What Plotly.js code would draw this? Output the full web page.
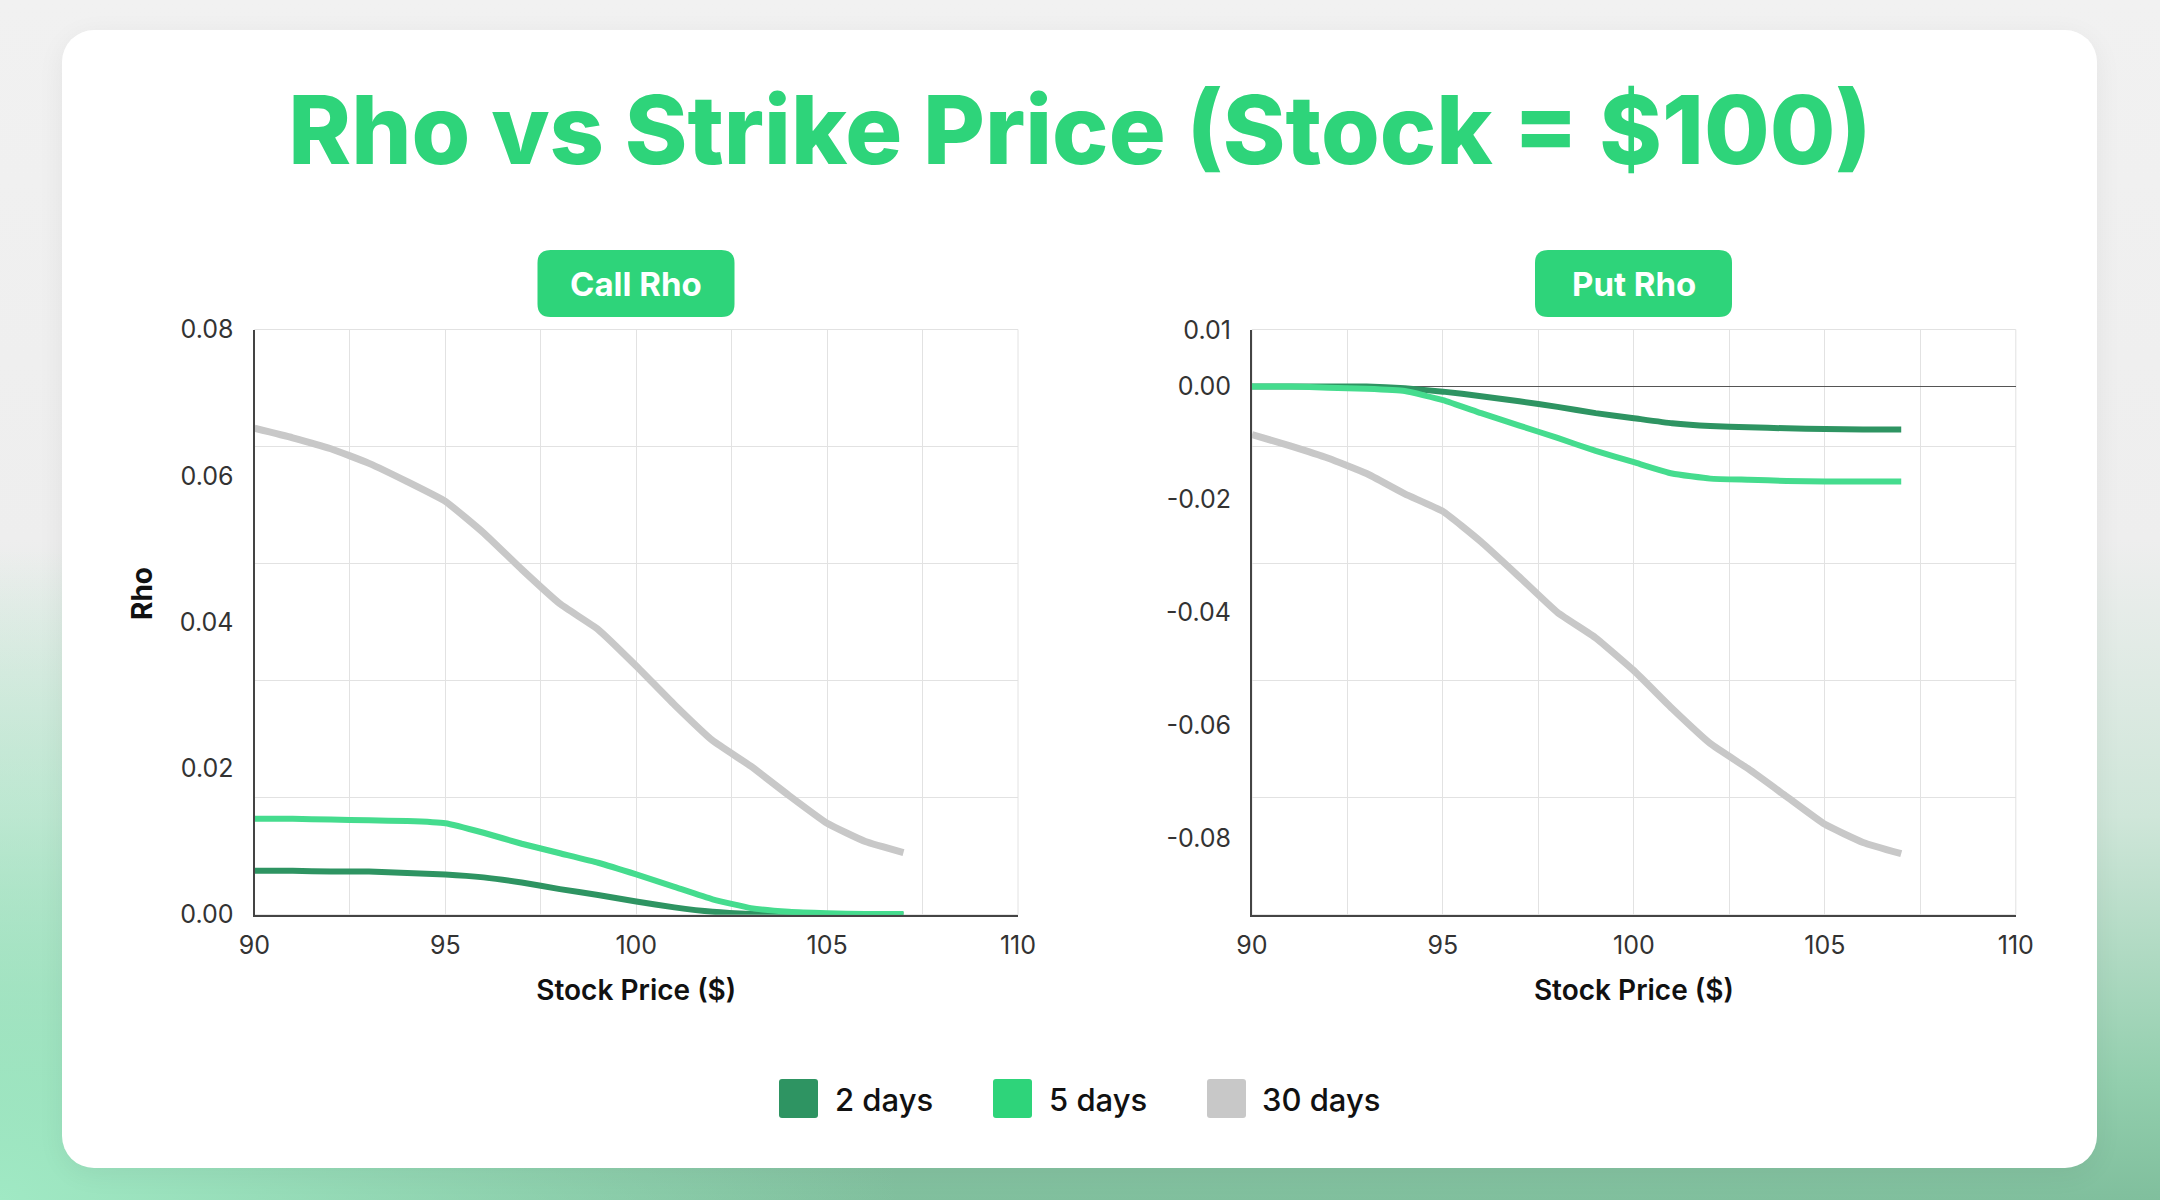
<!DOCTYPE html>
<html>
<head>
<meta charset="utf-8">
<script src="https://cdn.plot.ly/plotly-3.0.1.min.js"></script>
<style>
  html, body { margin: 0; padding: 0; width: 2160px; height: 1200px; overflow: hidden; }
  body {
    background:
      radial-gradient(ellipse 900px 650px at 0% 100%, rgba(160,233,196,1) 0%, rgba(160,233,196,0) 100%),
      linear-gradient(180deg, #f1f1f1 0%, #eeeeee 45%, #cfe6d9 68%, #93cfae 90%, #80bf9d 100%);
  }
  #card { position: absolute; left: 62px; top: 30px; width: 2035px; height: 1138px;
          background: #fff; border-radius: 32px; box-shadow: 0 6px 28px rgba(0,0,0,0.06); }
  #chart { position: absolute; left: 0; top: 0; width: 2160px; height: 1200px; }
</style>
</head>
<body>
<div id="card"></div>
<div id="chart"></div>
<script>
// strike prices on the x axis
const strikes = [90, 91, 92, 93, 94, 95, 96, 97, 98, 99, 100, 101, 102, 103, 104, 105, 106, 107];

// call rho
const callRho2  = [0.0060, 0.0060, 0.0059, 0.0059, 0.0057, 0.0055, 0.0051, 0.0044, 0.0035, 0.0027, 0.0018, 0.0010, 0.0004, 0.0001, 0.0000, 0.0000, 0.0000, 0.0000];
const callRho5  = [0.0131, 0.0131, 0.0130, 0.0129, 0.0128, 0.0125, 0.0112, 0.0097, 0.0084, 0.0071, 0.0055, 0.0038, 0.0021, 0.0009, 0.0004, 0.0002, 0.0001, 0.0001];
const callRho30 = [0.0665, 0.0652, 0.0637, 0.0617, 0.0592, 0.0565, 0.0522, 0.0472, 0.0425, 0.0390, 0.0340, 0.0287, 0.0238, 0.0203, 0.0163, 0.0125, 0.0100, 0.0085];

// put rho
const putRho2  = [0.0000, 0.0000, 0.0000, 0.0000, -0.0003, -0.0009, -0.0017, -0.0026, -0.0036, -0.0047, -0.0056, -0.0065, -0.0070, -0.0072, -0.0074, -0.0075, -0.0076, -0.0076];
const putRho5  = [0.0000, 0.0000, -0.0002, -0.0004, -0.0008, -0.0024, -0.0047, -0.0069, -0.0091, -0.0114, -0.0134, -0.0154, -0.0163, -0.0165, -0.0167, -0.0168, -0.0168, -0.0168];
const putRho30 = [-0.0085, -0.0105, -0.0127, -0.0154, -0.0190, -0.0221, -0.0275, -0.0337, -0.0400, -0.0445, -0.0503, -0.0570, -0.0632, -0.0677, -0.0726, -0.0775, -0.0807, -0.0827];

const seriesNames = ['2 days', '5 days', '30 days'];
const lineColors = ['#2e9462', '#45dc8e', '#c8c8c8'];
const swatchColors = ['#2e9462', '#2ed47a', '#c8c8c8'];
const lineWidths = [6, 6, 7];

const panelTitles = ['Call Rho', 'Put Rho'];
const xTicks = [90, 95, 100, 105, 110];
const callTicks = [0, 0.02, 0.04, 0.06, 0.08];
const putTicks = [0.01, 0, -0.02, -0.04, -0.06, -0.08];

const W = 2160, H = 1200;
const FONT = 'Inter, "Noto Sans", sans-serif';
const px = v => v / W;
const py = v => 1 - v / H;

function roundRect(w, h, r) {
  const a = w / 2, b = h / 2;
  return 'M' + (-a + r) + ',' + (-b) + ' H' + (a - r) + ' Q' + a + ',' + (-b) + ' ' + a + ',' + (-b + r) +
         ' V' + (b - r) + ' Q' + a + ',' + b + ' ' + (a - r) + ',' + b +
         ' H' + (-a + r) + ' Q' + (-a) + ',' + b + ' ' + (-a) + ',' + (b - r) +
         ' V' + (-b + r) + ' Q' + (-a) + ',' + (-b) + ' ' + (-a + r) + ',' + (-b) + ' Z';
}

const callSets = [callRho2, callRho5, callRho30];
const putSets = [putRho2, putRho5, putRho30];
const traces = [];
callSets.forEach((ys, i) => traces.push({
  x: strikes, y: ys, xaxis: 'x', yaxis: 'y', name: seriesNames[i], type: 'scatter', mode: 'lines',
  line: {color: lineColors[i], width: lineWidths[i], shape: 'spline', smoothing: 0.4}, showlegend: false
}));
putSets.forEach((ys, i) => traces.push({
  x: strikes, y: ys, xaxis: 'x2', yaxis: 'y2', name: seriesNames[i], type: 'scatter', mode: 'lines',
  line: {color: lineColors[i], width: lineWidths[i], shape: 'spline', smoothing: 0.4}, showlegend: false
}));

const gridColor = '#e2e2e2';
const tickFont = {family: FONT, size: 25, color: '#333'};

function xAxis(domain, anchor) {
  return {
    domain: domain, anchor: anchor, range: [90, 110],
    tickmode: 'array', tickvals: xTicks, ticks: '', ticklabelstandoff: 7,
    showgrid: true, gridcolor: gridColor, gridwidth: 1,
    minor: {tickmode: 'linear', tick0: 90, dtick: 2.5, showgrid: true, gridcolor: gridColor, gridwidth: 1, ticks: ''},
    showline: true, linecolor: '#444', linewidth: 2, zeroline: false,
    tickfont: tickFont,
    title: {text: 'Stock Price ($)', standoff: 22, font: {family: FONT, size: 28, color: '#111', weight: 600}}
  };
}
function yAxis(domain, anchor, range, ticks, zero) {
  return {
    domain: domain, anchor: anchor, range: range,
    tickmode: 'array', tickvals: ticks, ticktext: ticks.map(v => v.toFixed(2)), ticks: '', ticklabelstandoff: 14,
    showgrid: false,
    minor: {tickmode: 'linear', tick0: range[0], dtick: (range[1] - range[0]) / 5, showgrid: true, gridcolor: gridColor, gridwidth: 1, ticks: ''},
    showline: true, linecolor: '#444', linewidth: 2,
    zeroline: zero, zerolinecolor: '#555', zerolinewidth: 1.5,
    tickfont: tickFont
  };
}

const yDom = [1 - 914.7 / H, 1 - 329.5 / H];
const leftDom = [254.5 / W, 1018 / W];
const rightDom = [1252 / W, 2015.8 / W];

const shapes = [];
const annotations = [];

// light frame on top and right of each plot
['x', 'x2'].forEach((ax, i) => shapes.push({
  type: 'rect', xref: ax + ' domain', yref: (i ? 'y2' : 'y') + ' domain', x0: 0, x1: 1, y0: 0, y1: 1,
  line: {color: gridColor, width: 1}, layer: 'below'
}));

// panel headers
const headerCenters = [636, 1633.5];
panelTitles.forEach((t, i) => {
  shapes.push({
    type: 'path', xref: 'paper', yref: 'paper', xsizemode: 'pixel', ysizemode: 'pixel',
    xanchor: px(headerCenters[i]), yanchor: py(283.5), path: roundRect(197, 67, 13),
    fillcolor: '#2ed47a', line: {width: 0}
  });
  annotations.push({
    text: t, xref: 'paper', yref: 'paper', x: px(headerCenters[i]), y: py(284),
    xanchor: 'center', yanchor: 'middle', showarrow: false,
    font: {family: FONT, size: 33, color: '#fff', weight: 700}
  });
});

// y title of left panel
annotations.push({
  text: 'Rho', xref: 'paper', yref: 'paper', x: px(142), y: py(594), textangle: -90,
  xanchor: 'center', yanchor: 'middle', showarrow: false,
  font: {family: FONT, size: 28, color: '#111', weight: 700}
});

// legend
const swatchX = [798.5, 1012.5, 1226.5];
const labelX = [833, 1047, 1260];
seriesNames.forEach((n, i) => {
  shapes.push({
    type: 'path', xref: 'paper', yref: 'paper', xsizemode: 'pixel', ysizemode: 'pixel',
    xanchor: px(swatchX[i]), yanchor: py(1098.5), path: roundRect(39, 39, 3),
    fillcolor: swatchColors[i], line: {width: 0}
  });
  annotations.push({
    text: n, xref: 'paper', yref: 'paper', x: px(labelX[i]), y: py(1099),
    xanchor: 'left', yanchor: 'middle', showarrow: false,
    font: {family: FONT, size: 31, color: '#111', weight: 500}
  });
});

const layout = {
  width: W, height: H,
  margin: {l: 0, r: 0, t: 0, b: 0},
  paper_bgcolor: 'rgba(0,0,0,0)', plot_bgcolor: 'rgba(0,0,0,0)',
  showlegend: false,
  title: {
    text: 'Rho vs Strike Price (Stock = $100)', x: 0.5, xanchor: 'center', y: py(131), yanchor: 'middle',
    font: {family: FONT, size: 95, color: '#2ed47a', weight: 800}
  },
  xaxis: xAxis(leftDom, 'y'),
  yaxis: yAxis(yDom, 'x', [0, 0.08], callTicks, false),
  xaxis2: xAxis(rightDom, 'y2'),
  yaxis2: yAxis(yDom, 'x2', [-0.0935, 0.0101], putTicks, true),
  shapes: shapes,
  annotations: annotations
};

Plotly.newPlot('chart', traces, layout, {displayModeBar: false, staticPlot: true});
</script>
</body>
</html>
